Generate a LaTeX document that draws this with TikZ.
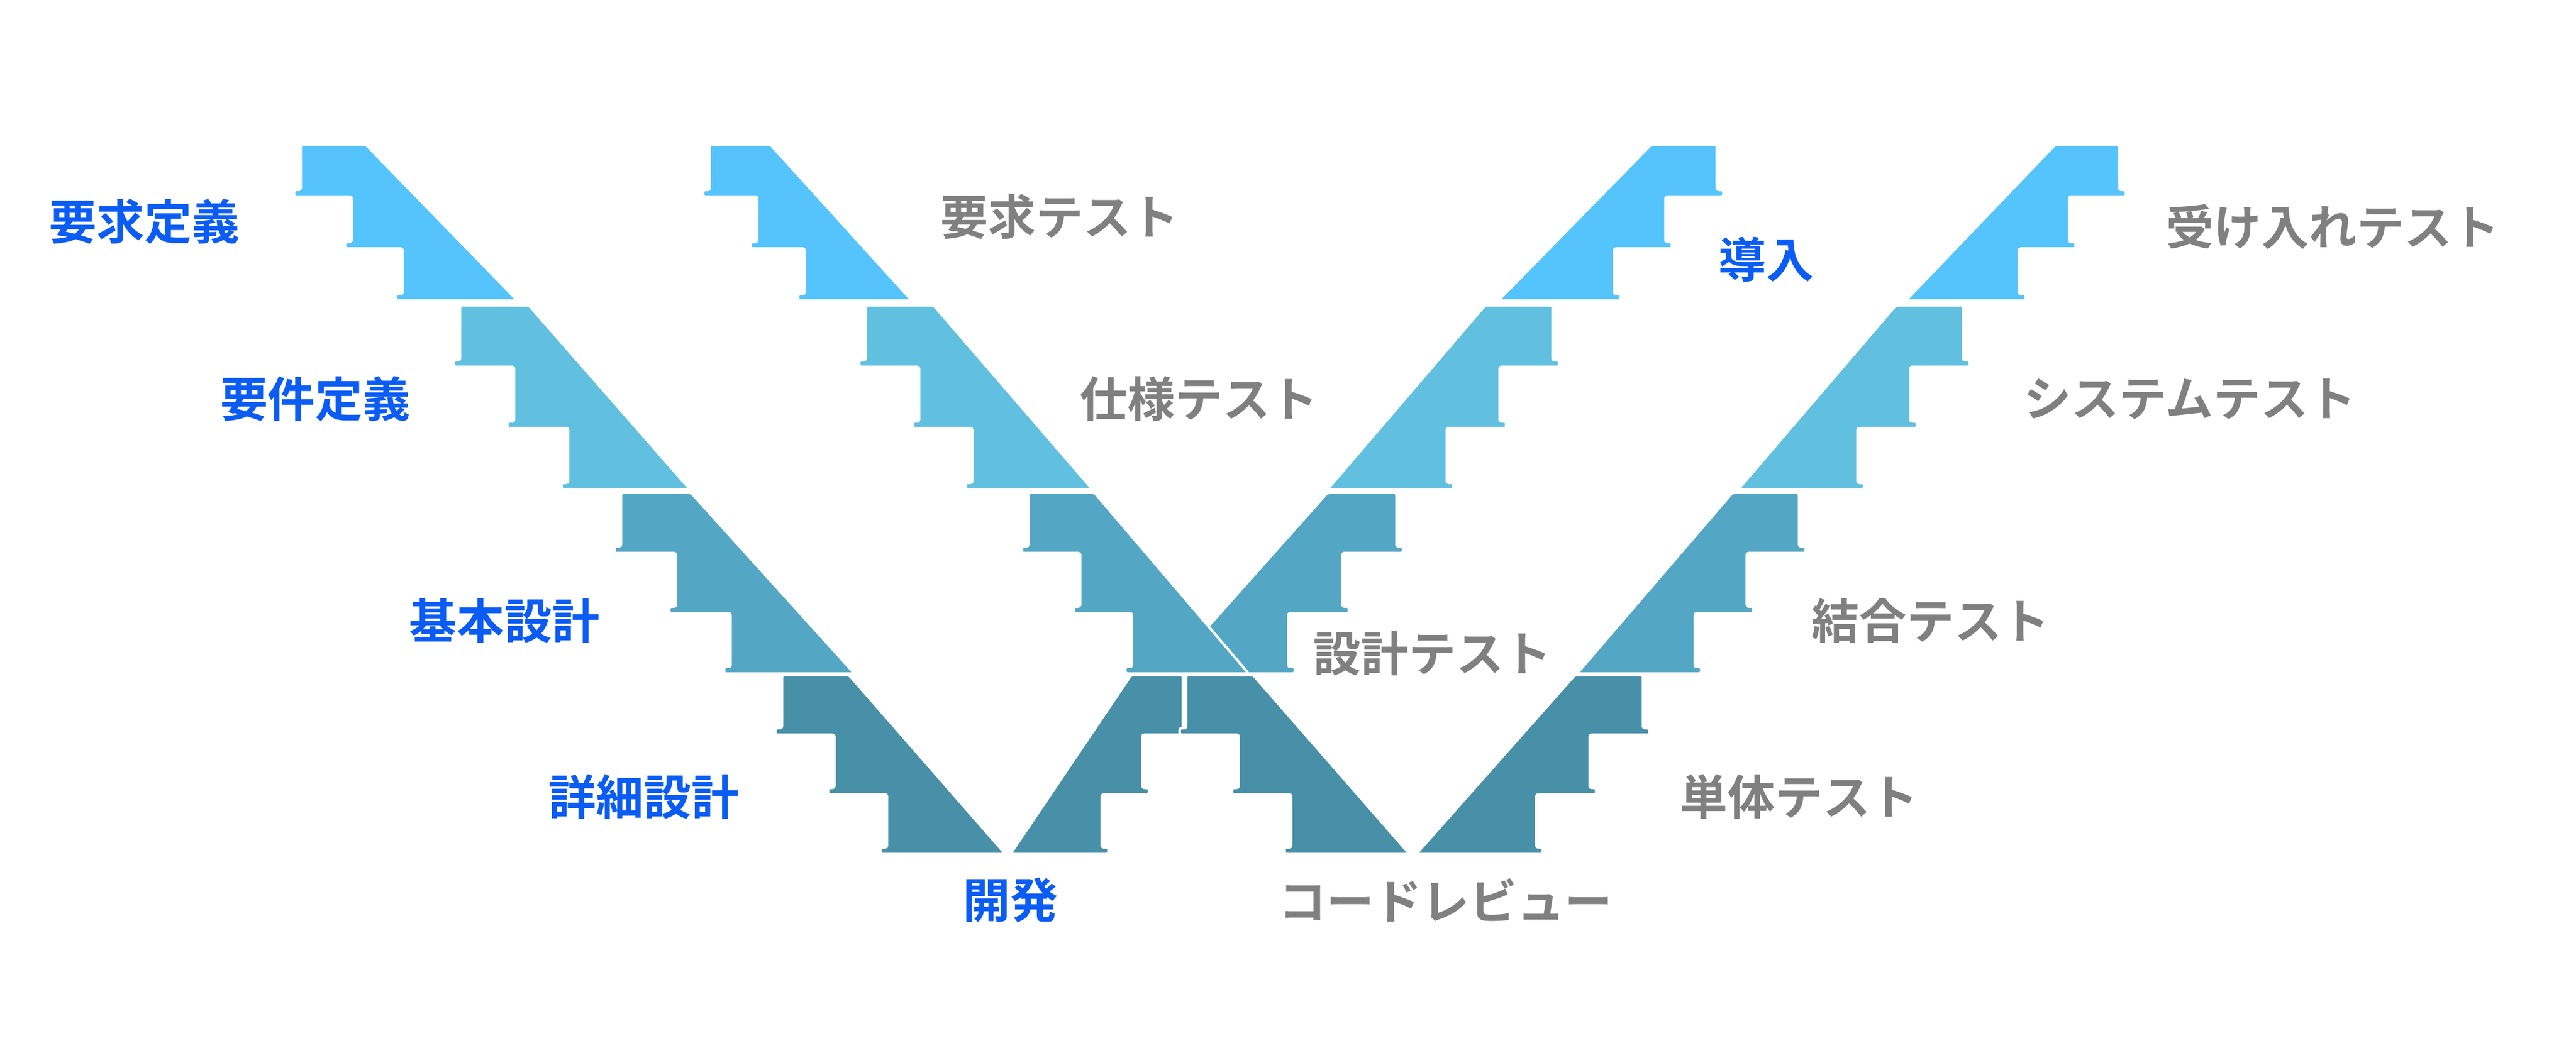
\documentclass[tikz,border=0pt]{standalone}
\usepackage{fontspec}
\newfontfamily\jpfont{Noto Sans CJK JP Bold}
\definecolor{rowa}{HTML}{55C4FC}
\definecolor{rowb}{HTML}{61C0E0}
\definecolor{rowc}{HTML}{53A7C4}
\definecolor{rowd}{HTML}{4890A8}
\definecolor{phase}{HTML}{0A5CF5}
\definecolor{check}{HTML}{808080}
\tikzset{
  flight/.style={fill=#1,draw=white,line width=1.5pt,rounded corners=1.2pt},
  phaselbl/.style={font=\jpfont\fontsize{29}{32}\selectfont,text=phase},
  checklbl/.style={font=\jpfont\fontsize{29}{32}\selectfont,text=check}
}
% flight of three steps: x0, top y, width, height, colour, direction (1 down, -1 up)
\newcommand\flight[6]{%
  \begin{scope}[shift={(#1,#2)},xscale=#6]
    \pgfmathsetmacro\fw{#3}\pgfmathsetmacro\fh{#4}
    \pgfmathsetmacro\fd{0.235*#3}\pgfmathsetmacro\fs{#4/3}
    \draw[flight=#5] (0,0) -- ({0.3*\fw},0) -- (\fw,\fh) -- ({2*\fd-4},\fh)
      -- ({2*\fd-4},\fh-4) -- ({2*\fd},\fh-4) -- ({2*\fd},{2*\fs})
      -- ({\fd-4},{2*\fs}) -- ({\fd-4},{2*\fs-4}) -- (\fd,{2*\fs-4}) -- (\fd,\fs)
      -- (-4,\fs) -- (-4,\fs-4) -- (0,\fs-4) -- cycle;
  \end{scope}}
\begin{document}
\begin{tikzpicture}[x=1pt,y=-1pt]
\fill[white] (0,0) rectangle (1568,638);
\useasboundingbox (0,0) rectangle (1568,638);
% first V, going down
\flight{183}{88}{132}{95}{rowa}{1}
\flight{280}{186}{140}{112}{rowb}{1}
\flight{378}{300}{142}{110}{rowc}{1}
\flight{476}{411}{136}{109}{rowd}{1}
% first V, going up
\flight{1045}{88}{133}{95}{rowa}{-1}
\flight{945}{186}{137}{112}{rowb}{-1}
\flight{850}{300}{140}{110}{rowc}{-1}
\flight{720}{411}{105}{109}{rowd}{-1}
% second V, going down
\flight{432}{88}{123}{95}{rowa}{1}
\flight{527}{186}{138}{112}{rowb}{1}
\flight{626}{300}{134}{110}{rowc}{1}
\flight{722}{411}{136}{109}{rowd}{1}
% second V, going up
\flight{1290}{88}{130}{95}{rowa}{-1}
\flight{1195}{186}{137}{112}{rowb}{-1}
\flight{1095}{300}{135}{110}{rowc}{-1}
\flight{1000}{411}{138}{109}{rowd}{-1}
% labels
\node[phaselbl] (req) at (88,135) {要求定義};
\node[phaselbl] (spec) at (192,243) {要件定義};
\node[phaselbl] (basic) at (307,378) {基本設計};
\node[phaselbl] (detail) at (392,485) {詳細設計};
\node[phaselbl] (dev) at (615,548) {開発};
\node[phaselbl] (deploy) at (1075,158) {導入};
\node[checklbl] (reqtest) at (645,132) {要求テスト};
\node[checklbl] (spectest) at (730,243) {仕様テスト};
\node[checklbl] (destest) at (872,398) {設計テスト};
\node[checklbl] (review) at (880,548) {コードレビュー};
\node[checklbl] (accept) at (1420,138) {受け入れテスト};
\node[checklbl] (systest) at (1333,243) {システムテスト};
\node[checklbl] (inttest) at (1175,378) {結合テスト};
\node[checklbl] (unittest) at (1095,485) {単体テスト};
\end{tikzpicture}
\end{document}
